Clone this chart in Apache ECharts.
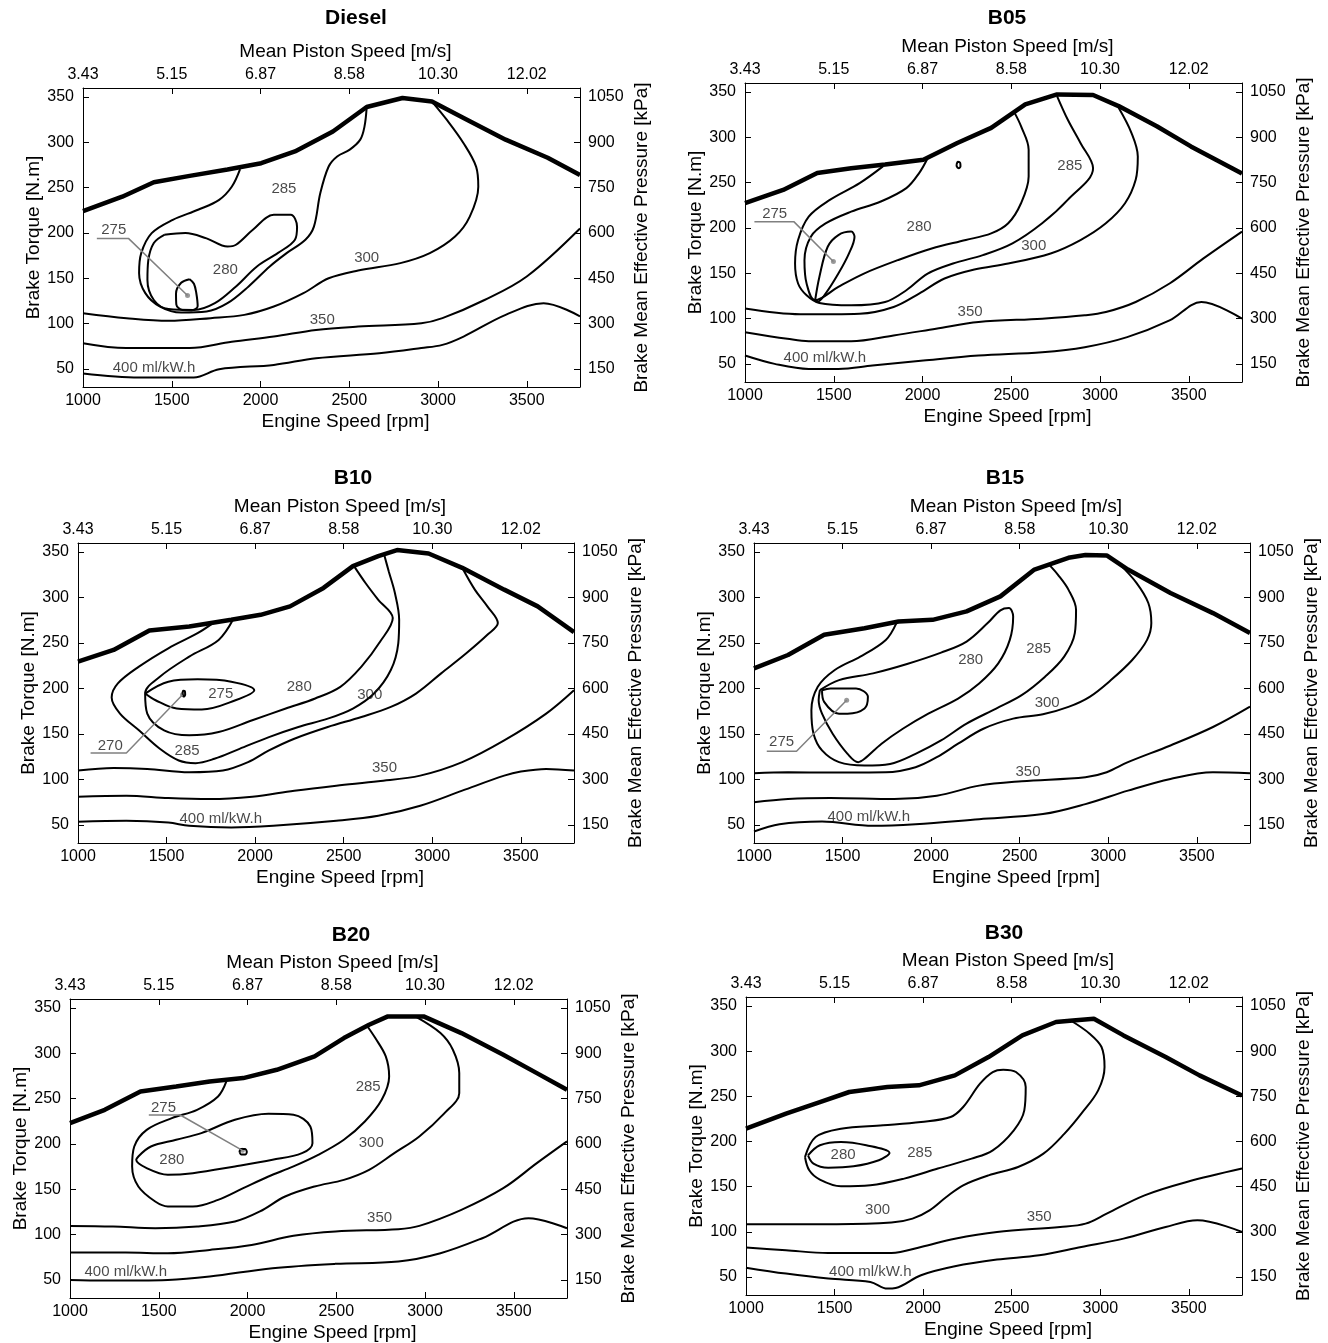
<!DOCTYPE html>
<html>
<head>
<meta charset="utf-8">
<title>BSFC maps</title>
<script src="https://cdn.jsdelivr.net/npm/echarts@6/dist/echarts.min.js"></script>
<style>
    html, body { margin: 0; padding: 0; background: #fff; }
    #chart { width: 1328px; height: 1343px; }
</style>
</head>
<body>
<div id="chart"></div>
<script>
// tick labels
const rpmTicks = [1000, 1500, 2000, 2500, 3000, 3500];
const pistonLabels = ['3.43', '5.15', '6.87', '8.58', '10.30', '12.02'];
const torqueTicks = [50, 100, 150, 200, 250, 300, 350];
const bmepTicks = [150, 300, 450, 600, 750, 900, 1050];

// ---- Diesel ----
const dieselWot = [[1000,224],[1221,240],[1399,256],[1601,263],[1814,270],[2004,277],[2194,290],[2408,312],[2598,339],[2800,349],[2966,345],[3144,327],[3381,303],[3618,283],[3800,264]];
const diesel275 = [[1601,149],[1625,144],[1638,134],[1646,119],[1610,114.5],[1560,115],[1526,121],[1524,133],[1553,145],[1601,149]];
const diesel280 = [[1458,198],[1577,200],[1696,194],[1814,185],[1862,187],[1957,203.5],[2075,220],[2170,220],[2206,207],[2194,192.5],[2099,178],[1980,163],[1862,141],[1743,122.5],[1624,115],[1482,116],[1399,126],[1363,148],[1368,170],[1399,189],[1458,198]];
const diesel285 = [[1885,270.5],[1838,251],[1767,236.6],[1648,225.6],[1506,214.5],[1387,199.8],[1328,177.7],[1316,155.6],[1351,133.6],[1434,118.8],[1553,112.2],[1696,113.3],[1814,122.5],[1933,141],[2052,163],[2147,177.7],[2253,192.5],[2301,207],[2337,244],[2384,273.4],[2432,284.5],[2503,292],[2562,303],[2586,317.6],[2598,338]];
const diesel300 = [[1000,111.5],[1245,106],[1482,103],[1719,106],[1909,109.6],[2075,118.8],[2242,133.6],[2384,150],[2550,158.6],[2788,166.7],[2954,177.7],[3096,196],[3179,218],[3227,251],[3215,273],[3144,299],[3049,325],[2966,345]];
const diesel350 = [[1000,78.4],[1244,73],[1601,73],[1838,80],[2075,85.7],[2313,93],[2550,96.7],[2906,100.4],[3025,106],[3262,126],[3500,152],[3800,205]];
const diesel400 = [[1000,45],[1316,40.5],[1624,40.5],[1767,49.6],[2075,54.4],[2313,61.8],[2669,67.3],[2906,73],[3025,76.5],[3144,85.7],[3381,109.6],[3595,122.5],[3800,108]];
const dieselLabels = [[1173,203,'275'],[1802,159,'280'],[2132,249,'285'],[2598,172,'300'],[2348,104,'350'],[1400,51,'400 ml/kW.h']];
const dieselLeader = [[1078,194],[1256,194],[1589,131]];

// ---- B05 ----
const b05Wot = [[1000,227.3],[1215,242],[1407,260.6],[1598,266],[1789,270],[2005,275.4],[2196,293.8],[2387,310.5],[2579,336.3],[2758,347.4],[2961,346.7],[3105,334.5],[3320,312.3],[3512,290],[3800,260]];
const b05Ring = [[2192,270],[2200,273],[2212,272],[2214,268],[2204,266],[2193,268],[2192,270]];
const b05_275 = [[1395,120],[1419,146],[1466,179.3],[1526,192.2],[1598,196],[1617,190.4],[1586,172],[1526,149.7],[1454,127.6],[1407,118.4],[1395,120]];
const b05_280 = [[2029,277],[1981,260.6],[1909,244],[1765,229.2],[1598,218],[1454,205],[1371,190.4],[1335,164.5],[1347,138.7],[1395,120.2],[1526,135],[1670,149.7],[1861,164.5],[2052,177.4],[2244,186.7],[2387,194],[2483,205.2],[2555,227.3],[2598,256.9],[2598,286.4],[2555,312.3],[2519,327]];
const b05_285 = [[1777,268],[1646,249.5],[1478,231],[1359,212.5],[1299,186.7],[1282,160.8],[1299,138.7],[1347,125.7],[1419,117.2],[1598,114.6],[1789,118.3],[1909,131.3],[2029,149.7],[2172,160.8],[2340,170],[2507,183],[2674,205.2],[2818,231],[2961,266],[2890,293.8],[2818,319.7],[2758,345.6]];
const b05_300 = [[1000,111],[1311,104.7],[1646,105.4],[1837,112.8],[1981,127.6],[2124,144.2],[2292,154.2],[2483,160.8],[2722,171.9],[2890,186.7],[3033,205.2],[3141,227.3],[3201,253.2],[3213,279],[3177,305],[3105,332.6]];
const b05_350 = [[1000,85],[1239,77.7],[1359,75],[1598,75],[1837,81.4],[2076,88.8],[2316,96.2],[2674,99.9],[2914,103.6],[3033,107.2],[3201,118.3],[3392,138.7],[3583,166.4],[3800,196]];
const b05_400 = [[1000,59.2],[1167,50],[1359,44.4],[1526,44.4],[1718,48.1],[2005,53.7],[2316,59.2],[2674,62.9],[2914,68.4],[3153,79.5],[3392,98],[3571,118.3],[3800,100]];
const b05Labels = [[1167,216,'275'],[1981,201.5,'280'],[2830,268,'285'],[2627,180,'300'],[2268,107,'350'],[1450,56.6,'400 ml/kW.h']];
const b05Leader = [[1053,207],[1275,207],[1498,163]];

// ---- B10 ----
const b10Wot = [[1000,229.5],[1201,242.4],[1403,263.7],[1628,268.2],[1865,275.5],[2031,281],[2197,290.3],[2386,310.6],[2552,334.5],[2695,345.6],[2801,352.2],[2979,348.5],[3169,332.7],[3406,308.7],[3595,290.3],[3800,262]];
const b10_270 = [[1590,194],[1594,197.5],[1603,197],[1605,193],[1598,191],[1590,194]];
const b10_275 = [[1379,194.4],[1510,207.4],[1675,210],[1865,207.4],[1995,198],[1889,187],[1699,176.8],[1557,177.9],[1438,187],[1379,194.4]];
const b10_280 = [[1877,276.3],[1794,253.4],[1628,235],[1462,212.9],[1379,194.4],[1391,172.3],[1486,153.9],[1628,148.4],[1794,152],[1984,165],[2173,177.9],[2339,189],[2481,201.8],[2600,224],[2706,251.6],[2777,277.4],[2694,297.7],[2623,316],[2560,334]];
const b10_285 = [[1770,273],[1675,260.8],[1510,244.2],[1344,224],[1225,205.5],[1190,190],[1237,172.3],[1344,153.9],[1462,133.6],[1569,120.7],[1664,117.8],[1770,122.6],[1912,133.6],[2078,146.5],[2244,157.6],[2410,166.8],[2552,177.9],[2671,194.4],[2766,220.3],[2808,249.7],[2813,275.5],[2789,305],[2754,329],[2730,346]];
const b10_300 = [[1000,109.7],[1201,112.6],[1391,111.5],[1628,107.8],[1818,109.7],[1960,118.9],[2078,131.8],[2221,144.7],[2410,157.6],[2600,168.6],[2766,179.7],[2908,194.4],[3050,216.6],[3192,238.7],[3311,259],[3370,271.9],[3311,290.3],[3240,308.7],[3169,332.7]];
const b10_350 = [[1000,81],[1273,82],[1510,79.4],[1747,78.3],[1984,81],[2221,87.6],[2458,93.1],[2695,97.9],[2932,104.1],[3169,118.9],[3406,142.8],[3643,172.3],[3800,198]];
const b10_400 = [[1000,53.3],[1273,54.4],[1510,52.5],[1628,48.9],[1865,47],[2102,48.9],[2458,54.4],[2695,59.9],[2932,71],[3169,87.6],[3406,104.1],[3500,108.6],[3643,111.5],[3800,109.7]];
const b10Labels = [[1182,137,'270'],[1806,194,'275'],[2249,202,'280'],[1616,131,'285'],[2647,193,'300'],[2730,113,'350'],[1806,57,'400 ml/kW.h']];
const b10Leader = [[1071,129],[1273,129],[1590,193]];

// ---- B15 ----
const b15Wot = [[1000,222.1],[1192,236.8],[1396,259],[1624,266.3],[1816,273.7],[2008,275.5],[2200,284.8],[2391,301.3],[2583,330.8],[2775,343.7],[2871,346.7],[2991,346.3],[3111,330.8],[3351,305],[3591,282.9],[3800,261]];
const b15_275 = [[1384,198],[1432,200],[1576,200],[1643,190.8],[1624,177.9],[1528,172.3],[1480,172.3],[1396,185.2],[1384,198]];
const b15_280 = [[1372,198.1],[1480,209.2],[1672,216.6],[1864,226.9],[2056,239.4],[2200,251.6],[2319,271.9],[2391,285.9],[2439,288.4],[2463,279.2],[2444,253.4],[2379,227.6],[2271,205.5],[2152,188.9],[1984,172.3],[1840,155.7],[1720,139.2],[1624,122.6],[1588,118.9],[1528,128.1],[1444,150.2],[1384,172.3],[1365,187.1],[1372,198.1]];
const b15_285 = [[1804,271.9],[1744,253.4],[1600,235],[1456,220.3],[1360,201.8],[1324,176],[1336,150.2],[1384,131.8],[1480,118.9],[1624,115.2],[1768,117],[1912,128.1],[2056,142.8],[2200,161.3],[2367,177.9],[2511,192.6],[2643,212.9],[2751,235],[2811,260.8],[2818,286.6],[2775,308.7],[2715,325.3],[2667,336]];
const b15_300 = [[1000,106.7],[1192,107.8],[1432,107.5],[1744,107.8],[1912,113.4],[2032,124.4],[2152,139.2],[2295,155.7],[2463,166.8],[2631,171.6],[2775,179.7],[2895,190.8],[3015,209.2],[3135,231.3],[3219,253.4],[3243,271.9],[3226,294],[3159,316.1],[3063,337]];
const b15_350 = [[1000,74.7],[1192,78.3],[1432,79.4],[1792,78.3],[2032,82],[2271,93.1],[2511,97.9],[2871,102.3],[2991,107.8],[3111,118.9],[3351,137.3],[3591,157.6],[3800,180]];
const b15_400 = [[1000,42.6],[1144,50.7],[1384,53.6],[1672,48.9],[1912,50.7],[2271,56.2],[2631,61.8],[2871,72.8],[3111,87.6],[3351,100.5],[3591,107.8],[3800,106.7]];
const b15Labels = [[1156,141,'275'],[2223,231,'280'],[2607,244,'285'],[2655,184.5,'300'],[2547,108,'350'],[1648,59,'400 ml/kW.h']];
const b15Leader = [[1072,131],[1240,131],[1523,187]];

// ---- B20 ----
const b20Wot = [[1000,223],[1196,237.7],[1397,258],[1598,263.5],[1787,269],[1976,272.7],[2165,281.9],[2378,296.6],[2543,316.9],[2685,331.6],[2791,340.8],[2992,340.8],[3205,322.4],[3441,298.5],[3630,278.2],[3800,259.8]];
const b20_275 = [[1955,191],[1962,194.5],[1985,194.5],[1996,191.5],[1988,188.5],[1965,188.5],[1955,191]];
const b20_280 = [[1385,186.2],[1456,197.2],[1598,204.6],[1740,212],[1929,226.7],[2118,233.3],[2259,232.2],[2354,219.3],[2366,200.9],[2307,189.9],[2141,182.5],[1929,175.2],[1692,167.8],[1551,166],[1432,173.3],[1373,182.5],[1385,186.2]];
const b20_285 = [[1881,269],[1834,252.4],[1716,237.7],[1574,228.5],[1432,215.6],[1362,197.2],[1350,175.2],[1385,153.1],[1480,136.5],[1551,131],[1692,131],[1834,138.3],[1976,151.2],[2118,164.1],[2259,175.2],[2401,188.2],[2543,204.6],[2661,224.8],[2756,248.8],[2798,274.5],[2779,296.6],[2720,316.9],[2673,330.5]];
const b20_300 = [[1000,109.6],[1243,108.9],[1480,107],[1716,108.9],[1929,114.4],[2070,125.5],[2212,142],[2378,153.1],[2543,160.4],[2685,171.5],[2827,189.9],[2968,208.3],[3110,234],[3193,256.1],[3193,278.2],[3157,304],[3087,322.4],[2945,340.8]];
const b20_350 = [[1000,80.2],[1314,80.2],[1551,79.4],[1787,83.1],[2023,88.6],[2259,98.6],[2496,103.4],[2850,106],[2968,109.6],[3205,127.3],[3441,151.2],[3630,178.8],[3800,202.8]];
const b20_400 = [[1000,50],[1196,49.3],[1551,50],[1787,53.7],[2141,62.9],[2496,67.7],[2850,70.2],[3087,79.4],[3323,96],[3583,118.1],[3800,107]];
const b20Labels = [[1527,240,'275'],[1574,182.5,'280'],[2680,263,'285'],[2697,201,'300'],[2744,118,'350'],[1314,59,'400 ml/kW.h']];
const b20Leader = [[1444,232],[1621,232],[1971,193]];

// ---- B30 ----
const b30Wot = [[1000,214.2],[1226,230.8],[1417,243.7],[1583,254.8],[1798,260.3],[1976,262.2],[2179,273.2],[2369,293.5],[2560,317.5],[2750,332.3],[2845,334.1],[2964,336],[3131,317.5],[3369,293.5],[3560,273.2],[3800,251]];
const b30_280 = [[1350,184.7],[1417,195.8],[1536,199.5],[1679,195.8],[1810,187.3],[1750,179.2],[1607,172.5],[1464,171],[1381,175.5],[1350,184.7]];
const b30_285 = [[1333,182.8],[1393,205],[1536,214.2],[1774,217.9],[1988,221.6],[2155,227.1],[2226,238.2],[2321,264],[2393,276.9],[2452,279.5],[2524,276.9],[2579,260.3],[2571,234.5],[2512,212.4],[2393,190.2],[2274,181],[2083,170],[1893,158.9],[1702,151.5],[1536,150.4],[1417,157.8],[1357,168.1],[1333,182.8]];
const b30_300 = [[1000,108.3],[1226,108.3],[1512,108.3],[1821,110.2],[1940,114.6],[2036,123.8],[2131,138.6],[2226,151.5],[2369,162.5],[2536,171.8],[2679,186.5],[2798,208.7],[2893,230.8],[2988,256.6],[3024,282.5],[3007,304.6],[2940,319.4],[2833,334]];
const b30_350 = [[1000,82.5],[1226,79.5],[1464,76.6],[1821,76.6],[1988,83.2],[2179,92.4],[2417,99.8],[2774,105.3],[2917,109],[3036,120.1],[3250,140.4],[3488,155.2],[3800,170]];
const b30_400 = [[1000,60.3],[1226,53.7],[1464,48.2],[1702,44.5],[1798,37.1],[1845,37.8],[1988,51.9],[2179,61.8],[2417,69.2],[2655,74],[2893,83.2],[3131,92.4],[3369,105.3],[3548,112.7],[3800,99.8]];
const b30Labels = [[1548,184.7,'280'],[1981,187.3,'285'],[1743,124.5,'300'],[2655,116.4,'350'],[1702,55.5,'400 ml/kW.h']];

const FONT = "'Liberation Sans', Arial, sans-serif";

// panel layout: box = [left, top, width, height], tpos = title centre
const panels = [
    { title: 'Diesel', box: [83, 88, 497, 299], tpos: [356, 18], wot: dieselWot,
      lines: [diesel275, diesel280, diesel285, diesel300, diesel350, diesel400], labels: dieselLabels, leader: dieselLeader },
    { title: 'B05', box: [745, 83, 497, 299], tpos: [1007, 18], wot: b05Wot,
      lines: [b05Ring, b05_275, b05_280, b05_285, b05_300, b05_350, b05_400], labels: b05Labels, leader: b05Leader },
    { title: 'B10', box: [78, 543, 496, 300], tpos: [353, 478], wot: b10Wot,
      lines: [b10_270, b10_275, b10_280, b10_285, b10_300, b10_350, b10_400], labels: b10Labels, leader: b10Leader },
    { title: 'B15', box: [754, 543, 496, 300], tpos: [1005, 478], wot: b15Wot,
      lines: [b15_275, b15_280, b15_285, b15_300, b15_350, b15_400], labels: b15Labels, leader: b15Leader },
    { title: 'B20', box: [70, 999, 497, 299], tpos: [351, 935], wot: b20Wot,
      lines: [b20_275, b20_280, b20_285, b20_300, b20_350, b20_400], labels: b20Labels, leader: b20Leader },
    { title: 'B30', box: [746, 997, 496, 298], tpos: [1004, 933], wot: b30Wot,
      lines: [b30_280, b30_285, b30_300, b30_350, b30_400], labels: b30Labels, leader: null }
];

function plain(v) {
    return String(v);
}

function axisBase(i, pos) {
    return {
        gridIndex: i,
        type: 'value',
        position: pos,
        nameLocation: 'middle',
        nameTextStyle: { color: '#000', fontSize: 19, fontFamily: FONT },
        axisLine: { show: true, onZero: false, lineStyle: { color: '#000', width: 1 } },
        axisTick: { show: true, inside: true, length: 6, lineStyle: { color: '#000', width: 1 } },
        axisLabel: { color: '#000', fontSize: 16, fontFamily: FONT, formatter: plain },
        splitLine: { show: false }
    };
}

let option = {
    animation: false,
    backgroundColor: '#fff',
    textStyle: { fontFamily: FONT },
    grid: [],
    xAxis: [],
    yAxis: [],
    series: [],
    graphic: []
};

panels.forEach(function (p, i) {
    option.grid.push({
        left: p.box[0], top: p.box[1], width: p.box[2], height: p.box[3],
        containLabel: false, outerBoundsMode: 'none', show: false
    });

    // bottom: engine speed
    let xb = axisBase(i, 'bottom');
    xb.min = 1000; xb.max = 3800;
    xb.name = 'Engine Speed [rpm]';
    xb.nameGap = 25;
    xb.nameTextStyle.padding = [0, 0, 0, 28];
    xb.axisTick.customValues = rpmTicks;
    xb.axisLabel.customValues = rpmTicks;
    xb.axisLabel.margin = 6;

    // top: mean piston speed
    let xt = axisBase(i, 'top');
    xt.min = 1000; xt.max = 3800;
    xt.name = 'Mean Piston Speed [m/s]';
    xt.nameGap = 27;
    xt.nameTextStyle.padding = [0, 0, 0, 28];
    xt.axisTick.customValues = rpmTicks;
    xt.axisLabel.customValues = rpmTicks;
    xt.axisLabel.margin = 5;
    xt.axisLabel.formatter = function (v) {
        return pistonLabels[rpmTicks.indexOf(v)];
    };
    option.xAxis.push(xb, xt);

    // left: torque
    let yl = axisBase(i, 'left');
    yl.min = 30; yl.max = 360;
    yl.name = 'Brake Torque [N.m]';
    yl.nameRotate = 90;
    yl.nameGap = 40;
    yl.axisTick.customValues = torqueTicks;
    yl.axisLabel.customValues = torqueTicks;
    yl.axisLabel.margin = 9;

    // right: bmep (3 kPa per N.m)
    let yr = axisBase(i, 'right');
    yr.min = 90; yr.max = 1080;
    yr.name = 'Brake Mean Effective Pressure [kPa]';
    yr.nameRotate = 90;
    yr.nameGap = 52;
    yr.axisTick.customValues = bmepTicks;
    yr.axisLabel.customValues = bmepTicks;
    yr.axisLabel.margin = 8;
    option.yAxis.push(yl, yr);

    // contour lines
    p.lines.forEach(function (d) {
        option.series.push({
            type: 'line', xAxisIndex: 2 * i, yAxisIndex: 2 * i,
            data: d, showSymbol: false, smooth: 0.35, silent: true,
            lineStyle: { color: '#000', width: 2 }
        });
    });

    // full load curve
    option.series.push({
        type: 'line', xAxisIndex: 2 * i, yAxisIndex: 2 * i,
        data: p.wot, showSymbol: false, silent: true, z: 4,
        lineStyle: { color: '#000', width: 4.5 }
    });

    // leader line to minimum
    if (p.leader) {
        option.series.push({
            type: 'line', xAxisIndex: 2 * i, yAxisIndex: 2 * i,
            data: p.leader, showSymbol: false, silent: true,
            lineStyle: { color: '#808080', width: 1.5 }
        });
        option.series.push({
            type: 'scatter', xAxisIndex: 2 * i, yAxisIndex: 2 * i,
            data: [p.leader[p.leader.length - 1]], symbolSize: 5, silent: true,
            itemStyle: { color: '#808080' }
        });
    }

    // contour labels
    option.series.push({
        type: 'scatter', xAxisIndex: 2 * i, yAxisIndex: 2 * i,
        data: p.labels.map(function (l) { return { value: [l[0], l[1]], name: l[2] }; }),
        symbolSize: 1, silent: true, z: 5,
        itemStyle: { color: 'rgba(0,0,0,0)' },
        label: { show: true, position: 'inside', formatter: '{b}', color: '#1a1a1a', fontSize: 15, fontFamily: FONT }
    });

    option.graphic.push({
        type: 'text', x: p.tpos[0], y: p.tpos[1], silent: true,
        style: { text: p.title, fill: '#000', font: 'bold 21px ' + FONT, textAlign: 'center', textVerticalAlign: 'middle' }
    });
});

let myChart = echarts.init(document.getElementById('chart'));
myChart.setOption(option);
</script>
</body>
</html>
